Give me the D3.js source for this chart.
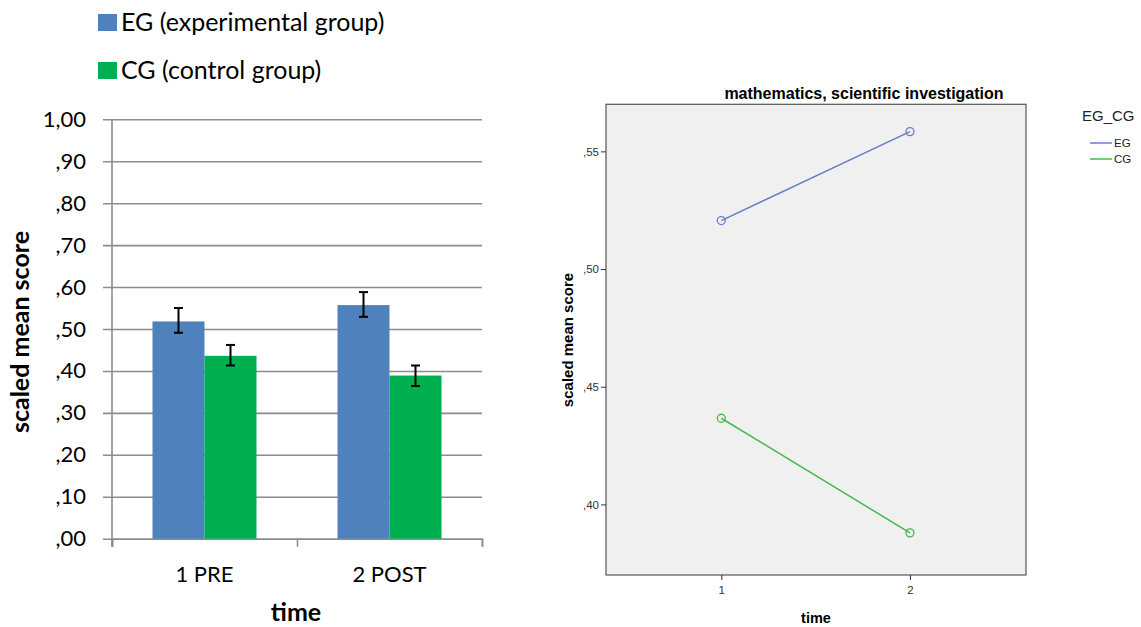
<!DOCTYPE html>
<html>
<head>
<meta charset="utf-8">
<script src="https://cdn.jsdelivr.net/npm/d3@7"></script>
<style>
  body { margin: 0; background: #fff; }
  svg { display: block; }
</style>
</head>
<body>
<div id="chart"></div>
<script>
// data
const times = ['1 PRE', '2 POST'];
const groups = ['EG', 'CG'];
const groupLabels = ['EG (experimental group)', 'CG (control group)'];
const egMeans = [0.518, 0.557];
const cgMeans = [0.436, 0.389];
const egLow = [0.491, 0.529];
const egHigh = [0.550, 0.588];
const cgLow = [0.413, 0.364];
const cgHigh = [0.462, 0.413];
const leftTicks = [0, 0.1, 0.2, 0.3, 0.4, 0.5, 0.6, 0.7, 0.8, 0.9, 1.0];

// right panel (profile plot)
const timePoints = [1, 2];
const egLine = [0.5206, 0.5584];
const cgLine = [0.4366, 0.3879];
const rightTicks = [0.40, 0.45, 0.50, 0.55];

const barColors = { EG: '#4f81bd', CG: '#00b050' };
const lineColors = { EG: '#6a7cc6', CG: '#45b94d' };

const W = 1141, H = 627;
const svg = d3.select('#chart').append('svg')
  .attr('width', W).attr('height', H);

const fmtComma = d => d3.format('.2f')(d).replace('.', ',').replace(/^0/, '');

// ---------- left: bar chart ----------
const left = { x0: 112, x1: 482, top: 119.3, bottom: 538.7 };
const yL = d3.scaleLinear().domain([0, 1]).range([left.bottom, left.top]);
const xBand = d3.scaleBand().domain(times).range([left.x0, left.x1]);
const xSub = d3.scaleBand().domain(groups).range([0, 104]);

const leftFont = 'Lato, "Open Sans", sans-serif';

// gridlines + tick labels (ticks run from right edge back past the y axis)
const gy = svg.append('g')
  .attr('transform', `translate(${left.x1},0)`)
  .call(d3.axisLeft(yL).tickValues(leftTicks).tickSize(left.x1 - 103)
    .tickPadding(17).tickFormat(fmtComma));
gy.select('.domain').remove();
gy.selectAll('line').attr('stroke', '#8c8c8c').attr('stroke-width', 1.6);
gy.selectAll('text').attr('font-family', leftFont).attr('font-size', 22)
  .attr('fill', '#000');

// y axis line
svg.append('line')
  .attr('x1', left.x0).attr('x2', left.x0)
  .attr('y1', left.top).attr('y2', left.bottom + 8)
  .attr('stroke', '#8c8c8c').attr('stroke-width', 1.6);

// x axis ticks at category boundaries
const xTicks = svg.append('g')
  .attr('transform', `translate(0,${left.bottom})`)
  .call(d3.axisBottom(d3.scaleLinear().domain([0, 2]).range([left.x0, left.x1]))
    .tickValues([0, 1, 2]).tickSize(8).tickFormat(''));
xTicks.selectAll('line, path').attr('stroke', '#8c8c8c').attr('stroke-width', 1.6);

// category labels
const xLab = svg.append('g')
  .attr('transform', `translate(0,${left.bottom})`)
  .call(d3.axisBottom(xBand).tickSize(0).tickPadding(28));
xLab.select('.domain').remove();
xLab.selectAll('text').attr('font-family', leftFont).attr('font-size', 22)
  .attr('fill', '#000');

const barRows = times.map((t, i) => [
  { time: t, g: 'EG', v: egMeans[i], lo: egLow[i], hi: egHigh[i] },
  { time: t, g: 'CG', v: cgMeans[i], lo: cgLow[i], hi: cgHigh[i] }
]).flat();

const barOffset = (xBand.bandwidth() - 104) / 2;
const barX = d => xBand(d.time) + barOffset + xSub(d.g);

svg.selectAll('rect.bar')
  .data(barRows)
  .join('rect')
  .attr('class', 'bar')
  .attr('x', barX)
  .attr('y', d => yL(d.v))
  .attr('width', xSub.bandwidth())
  .attr('height', d => yL(0) - yL(d.v))
  .attr('fill', d => barColors[d.g]);

// error bars
const eb = svg.selectAll('g.err').data(barRows).join('g').attr('class', 'err')
  .attr('transform', d => `translate(${barX(d) + xSub.bandwidth() / 2},0)`)
  .attr('stroke', '#000').attr('stroke-width', 2);
eb.append('line').attr('y1', d => yL(d.lo)).attr('y2', d => yL(d.hi));
eb.append('line').attr('x1', -4.5).attr('x2', 4.5)
  .attr('y1', d => yL(d.lo)).attr('y2', d => yL(d.lo));
eb.append('line').attr('x1', -4.5).attr('x2', 4.5)
  .attr('y1', d => yL(d.hi)).attr('y2', d => yL(d.hi));

// axis titles
svg.append('text')
  .attr('transform', 'translate(29,332) rotate(-90)')
  .attr('text-anchor', 'middle')
  .attr('font-family', leftFont).attr('font-weight', 'bold').attr('font-size', 25)
  .text('scaled mean score');
svg.append('text')
  .attr('x', 296).attr('y', 621)
  .attr('text-anchor', 'middle')
  .attr('font-family', leftFont).attr('font-weight', 'bold').attr('font-size', 25)
  .text('time');

// legend
const lg = svg.selectAll('g.leg').data(groups).join('g').attr('class', 'leg')
  .attr('transform', (d, i) => `translate(98,${14 + i * 48})`);
lg.append('rect').attr('width', 19).attr('height', 17)
  .attr('fill', d => barColors[d]);
lg.append('text').attr('x', 23).attr('y', 8.5).attr('dy', '0.35em')
  .attr('font-family', leftFont).attr('font-size', 25)
  .text((d, i) => groupLabels[i]);

// ---------- right: profile plot ----------
const right = { x0: 606, x1: 1026, top: 104.3, bottom: 575 };
const xR = d3.scaleLinear().domain([0.389, 2.615]).range([right.x0, right.x1]);
const yR = d3.scaleLinear().domain([0.370, 0.570]).range([right.bottom, right.top]);
const rFont = '"Liberation Sans", Arial, sans-serif';

svg.append('rect')
  .attr('x', right.x0).attr('y', right.top)
  .attr('width', right.x1 - right.x0).attr('height', right.bottom - right.top)
  .attr('fill', '#f0f0f0').attr('stroke', '#555').attr('stroke-width', 1.2);

const ayR = svg.append('g')
  .attr('transform', `translate(${right.x0},0)`)
  .call(d3.axisLeft(yR).tickValues(rightTicks).tickSize(5).tickPadding(2)
    .tickFormat(fmtComma));
ayR.select('.domain').remove();
ayR.selectAll('line').attr('stroke', '#333');
ayR.selectAll('text').attr('font-family', rFont).attr('font-size', 11.5)
  .attr('fill', '#333');

const axR = svg.append('g')
  .attr('transform', `translate(0,${right.bottom})`)
  .call(d3.axisBottom(xR).tickValues(timePoints).tickSize(5).tickPadding(6)
    .tickFormat(d3.format('d')));
axR.select('.domain').remove();
axR.selectAll('line').attr('stroke', '#333');
axR.selectAll('text').attr('font-family', rFont).attr('font-size', 11.5)
  .attr('fill', '#333');

const series = [
  { g: 'EG', vals: egLine },
  { g: 'CG', vals: cgLine }
];
const line = d3.line().x((d, i) => xR(timePoints[i])).y(d => yR(d));

svg.selectAll('path.series').data(series).join('path')
  .attr('class', 'series')
  .attr('d', d => line(d.vals))
  .attr('fill', 'none')
  .attr('stroke', d => lineColors[d.g]).attr('stroke-width', 1.5);

series.forEach(s => {
  svg.selectAll(null).data(s.vals).join('circle')
    .attr('cx', (d, i) => xR(timePoints[i]))
    .attr('cy', d => yR(d))
    .attr('r', 4)
    .attr('fill', 'none')
    .attr('stroke', lineColors[s.g]).attr('stroke-width', 1.3);
});

svg.append('text')
  .attr('x', 864).attr('y', 99)
  .attr('text-anchor', 'middle')
  .attr('font-family', rFont).attr('font-weight', 'bold').attr('font-size', 16)
  .text('mathematics, scientific investigation');

svg.append('text')
  .attr('transform', 'translate(573,340) rotate(-90)')
  .attr('text-anchor', 'middle')
  .attr('font-family', rFont).attr('font-weight', 'bold').attr('font-size', 15)
  .text('scaled mean score');

svg.append('text')
  .attr('x', 816).attr('y', 623)
  .attr('text-anchor', 'middle')
  .attr('font-family', rFont).attr('font-weight', 'bold').attr('font-size', 14.5)
  .text('time');

// right legend
svg.append('text')
  .attr('x', 1082).attr('y', 120.5)
  .attr('font-family', rFont).attr('font-size', 15).attr('fill', '#222')
  .text('EG_CG');
const rl = svg.selectAll('g.rleg').data(groups).join('g').attr('class', 'rleg')
  .attr('transform', (d, i) => `translate(1090,${143 + i * 16})`);
rl.append('line').attr('x2', 22)
  .attr('stroke', d => lineColors[d]).attr('stroke-width', 1.5);
rl.append('text').attr('x', 24).attr('dy', '0.35em')
  .attr('font-family', rFont).attr('font-size', 11.5).attr('fill', '#222')
  .text(d => d);
</script>
</body>
</html>
